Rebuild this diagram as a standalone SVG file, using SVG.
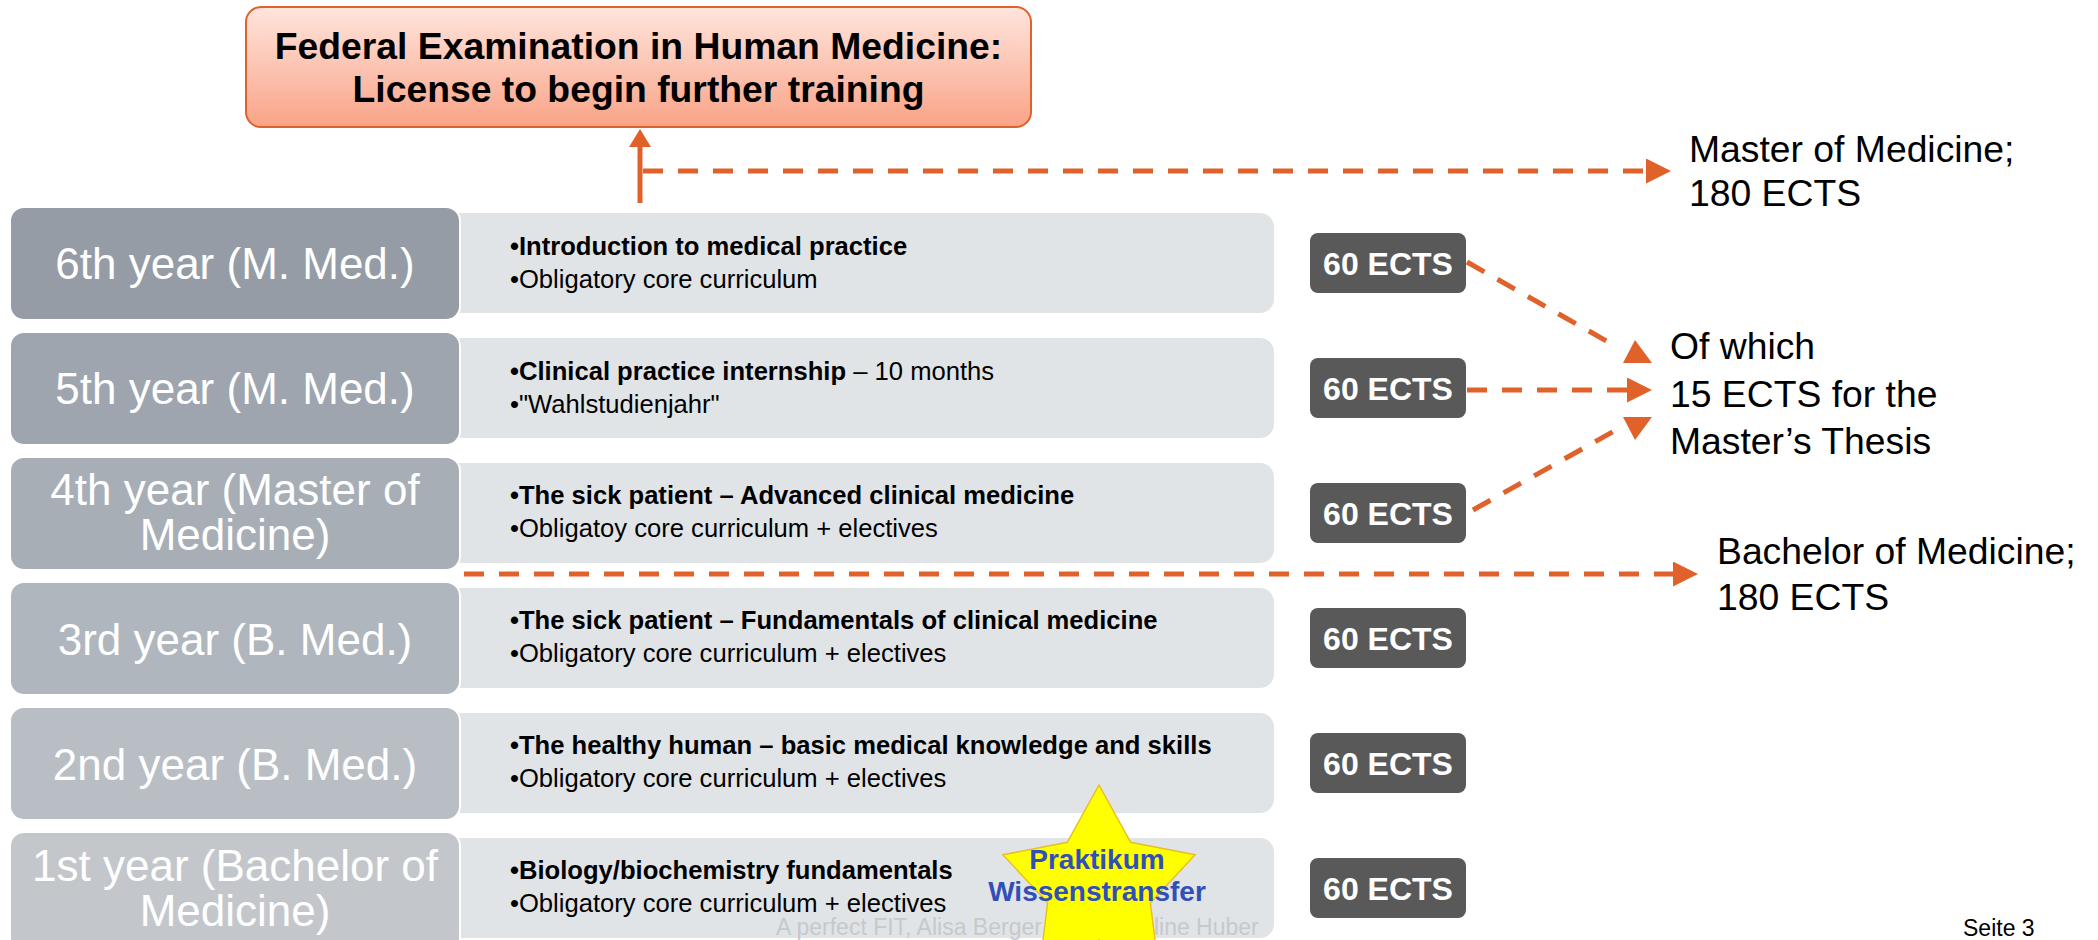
<svg xmlns="http://www.w3.org/2000/svg" width="2098" height="940" viewBox="0 0 2098 940">
<defs>
  <linearGradient id="gTop" x1="0" y1="0" x2="0" y2="1">
    <stop offset="0" stop-color="#FFE5DD"/>
    <stop offset="1" stop-color="#F9A387"/>
  </linearGradient>
  <marker id="ah" markerUnits="userSpaceOnUse" markerWidth="25" markerHeight="25" viewBox="0 0 25 25" refX="0" refY="12.5" orient="auto">
    <path d="M0,0 L25,12.5 L0,25 z" fill="#E0612A"/>
  </marker>
</defs>
<style>
  .lbl{font-family:"Liberation Sans",Arial,sans-serif;font-size:44px;fill:#ffffff;text-anchor:middle}
  .body{font-family:"Liberation Sans",Arial,sans-serif;font-size:25.6px;fill:#000000}
  .b{font-weight:bold}
  .content{fill:#E1E4E7}
  .yearbox{stroke:#ffffff;stroke-width:2}
  .ectsbox{fill:#595959}
  .ectst{font-family:"Liberation Sans",Arial,sans-serif;font-size:32px;font-weight:bold;fill:#ffffff;text-anchor:middle}
  .dash{stroke:#E0612A;stroke-width:5;stroke-dasharray:20 15;fill:none}
  .solid{stroke:#E0612A;stroke-width:5;fill:none}
  .ah{fill:#E0612A}
  .side{font-family:"Liberation Sans",Arial,sans-serif;font-size:37.3px;fill:#000000}
  .title{font-family:"Liberation Sans",Arial,sans-serif;font-size:37.3px;font-weight:bold;fill:#000000;text-anchor:middle}
  .foot{font-family:"Liberation Sans",Arial,sans-serif;font-size:23px;fill:#C6C9CC}
  .star{font-family:"Liberation Sans",Arial,sans-serif;font-size:28px;font-weight:bold;fill:#3050B8;text-anchor:middle}
</style>
<rect x="0" y="0" width="2098" height="940" fill="#ffffff"/>

<g id="federal-exam">
  <rect x="246" y="7" width="785" height="120" rx="15" fill="url(#gTop)" stroke="#E0612A" stroke-width="2"/>
  <text class="title" x="638.5" y="59">Federal Examination in Human Medicine:</text>
  <text class="title" x="638.5" y="102">License to begin further training</text>
</g>

<g id="year6">
  <rect class="content" x="440" y="213" width="834" height="100" rx="14"/>
  <rect class="yearbox" x="10" y="207" width="450" height="113" rx="14" fill="#959CA6"/>
  <text class="lbl" x="235" y="279">6th year (M. Med.)</text>
  <text class="body b" x="510" y="255">•Introduction to medical practice</text>
  <text class="body" x="510" y="288">•Obligatory core curriculum</text>
</g>
<g id="year5">
  <rect class="content" x="440" y="338" width="834" height="100" rx="14"/>
  <rect class="yearbox" x="10" y="332" width="450" height="113" rx="14" fill="#9EA5AE"/>
  <text class="lbl" x="235" y="404">5th year (M. Med.)</text>
  <text class="body" x="510" y="380"><tspan class="b">•Clinical practice internship</tspan> – 10 months</text>
  <text class="body" x="510" y="413">•"Wahlstudienjahr"</text>
</g>
<g id="year4">
  <rect class="content" x="440" y="463" width="834" height="100" rx="14"/>
  <rect class="yearbox" x="10" y="457" width="450" height="113" rx="14" fill="#A7AEB6"/>
  <text class="lbl" x="235" y="505">4th year (Master of</text>
  <text class="lbl" x="235" y="550">Medicine)</text>
  <text class="body b" x="510" y="504">•The sick patient – Advanced clinical medicine</text>
  <text class="body" x="510" y="537">•Obligatoy core curriculum + electives</text>
</g>
<g id="year3">
  <rect class="content" x="440" y="588" width="834" height="100" rx="14"/>
  <rect class="yearbox" x="10" y="582" width="450" height="113" rx="14" fill="#B0B6BD"/>
  <text class="lbl" x="235" y="655">3rd year (B. Med.)</text>
  <text class="body b" x="510" y="629">•The sick patient – Fundamentals of clinical medicine</text>
  <text class="body" x="510" y="662">•Obligatory core curriculum + electives</text>
</g>
<g id="year2">
  <rect class="content" x="440" y="713" width="834" height="100" rx="14"/>
  <rect class="yearbox" x="10" y="707" width="450" height="113" rx="14" fill="#B9BEC4"/>
  <text class="lbl" x="235" y="780">2nd year (B. Med.)</text>
  <text class="body b" x="510" y="754">•The healthy human – basic medical knowledge and skills</text>
  <text class="body" x="510" y="787">•Obligatory core curriculum + electives</text>
</g>
<g id="year1">
  <rect class="content" x="440" y="838" width="834" height="100" rx="14"/>
  <rect class="yearbox" x="10" y="832" width="450" height="120" rx="14" fill="#C3C7CC"/>
  <text class="lbl" x="235" y="881">1st year (Bachelor of</text>
  <text class="lbl" x="235" y="926">Medicine)</text>
  <text class="body b" x="510" y="879">•Biology/biochemistry fundamentals</text>
  <text class="body" x="510" y="912">•Obligatory core curriculum + electives</text>
</g>

<g id="footer">
  <text class="foot" x="776" y="935">A perfect FIT, Alisa Berger und Caro<tspan dx="11">line Huber</tspan></text>
  <text x="1963" y="936" font-family="Liberation Sans, Arial, sans-serif" font-size="23" fill="#000000">Seite 3</text>
</g>

<g id="star-praktikum">
  <polygon points="1099,785 1130.7,842.3 1195.1,854.8 1150.4,902.7 1158.4,967.7 1099,940 1039.6,967.7 1047.6,902.7 1002.9,854.8 1067.3,842.3" fill="#FFFF00" stroke="#E8C020" stroke-width="1.5"/>
  <text class="star" x="1097" y="869">Praktikum</text>
  <text class="star" x="1097" y="901">Wissenstransfer</text>
</g>

<g id="ects">
  <g id="ects6"><rect class="ectsbox" x="1310" y="233" width="156" height="60" rx="8"/><text class="ectst" x="1388" y="274.5">60 ECTS</text></g>
  <g id="ects5"><rect class="ectsbox" x="1310" y="358" width="156" height="60" rx="8"/><text class="ectst" x="1388" y="399.5">60 ECTS</text></g>
  <g id="ects4"><rect class="ectsbox" x="1310" y="483" width="156" height="60" rx="8"/><text class="ectst" x="1388" y="524.5">60 ECTS</text></g>
  <g id="ects3"><rect class="ectsbox" x="1310" y="608" width="156" height="60" rx="8"/><text class="ectst" x="1388" y="649.5">60 ECTS</text></g>
  <g id="ects2"><rect class="ectsbox" x="1310" y="733" width="156" height="60" rx="8"/><text class="ectst" x="1388" y="774.5">60 ECTS</text></g>
  <g id="ects1"><rect class="ectsbox" x="1310" y="858" width="156" height="60" rx="8"/><text class="ectst" x="1388" y="899.5">60 ECTS</text></g>
</g>

<g id="master-label">
  <text class="side" x="1689" y="162">Master of Medicine;</text>
  <text class="side" x="1689" y="206">180 ECTS</text>
</g>
<g id="thesis-label">
  <text class="side" x="1670" y="359" font-size="41.5">Of which</text>
  <text class="side" x="1670" y="407" font-size="41.5">15 ECTS for the</text>
  <text class="side" x="1670" y="454" font-size="41.5">Master’s Thesis</text>
</g>
<g id="bachelor-label">
  <text class="side" x="1717" y="564">Bachelor of Medicine;</text>
  <text class="side" x="1717" y="610">180 ECTS</text>
</g>

<g id="connectors">
  <line class="solid" x1="640" y1="203" x2="640" y2="146"/>
  <polygon class="ah" points="629,147 651,147 640,129"/>
  <line class="dash" x1="643" y1="171" x2="1646" y2="171" marker-end="url(#ah)"/>
  <line class="dash" x1="464" y1="574" x2="1673" y2="574" marker-end="url(#ah)"/>
  <line class="dash" x1="1467" y1="262" x2="1617" y2="347"/>
  <polygon class="ah" points="1635,340 1623,363 1652,363"/>
  <line class="dash" x1="1467" y1="390" x2="1627" y2="390" marker-end="url(#ah)"/>
  <line class="dash" x1="1473" y1="510" x2="1625" y2="425"/>
  <polygon class="ah" points="1623,417 1652,417 1635,440"/>
</g>
</svg>
